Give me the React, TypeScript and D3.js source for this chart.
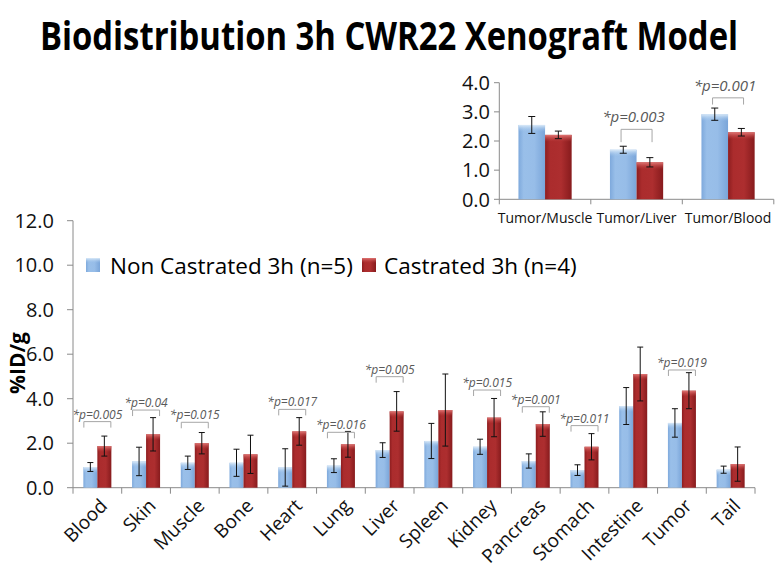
import React, { useLayoutEffect, useRef, useState } from 'react';
import * as d3 from 'd3';

// ---------- data ----------
const organs = ['Blood', 'Skin', 'Muscle', 'Bone', 'Heart', 'Lung', 'Liver', 'Spleen', 'Kidney', 'Pancreas', 'Stomach', 'Intestine', 'Tumor', 'Tail'];
const nonCastrated = [0.93, 1.18, 1.12, 1.12, 0.91, 0.99, 1.69, 2.10, 1.84, 1.20, 0.79, 3.67, 2.91, 0.81];
const nonCastratedErr = [0.20, 0.64, 0.30, 0.61, 0.84, 0.31, 0.33, 0.79, 0.34, 0.32, 0.24, 0.83, 0.64, 0.16];
const castrated = [1.87, 2.40, 2.00, 1.50, 2.53, 1.95, 3.43, 3.49, 3.15, 2.86, 1.84, 5.11, 4.36, 1.06];
const castratedErr = [0.45, 0.75, 0.48, 0.86, 0.62, 0.58, 0.89, 1.62, 0.86, 0.55, 0.59, 1.21, 0.81, 0.77];
const mainTicks = [0, 2, 4, 6, 8, 10, 12];

const annotatedOrgans = ['Blood', 'Skin', 'Muscle', 'Heart', 'Lung', 'Liver', 'Kidney', 'Pancreas', 'Stomach', 'Tumor'];
const annotationP = ['0.005', '0.04', '0.015', '0.017', '0.016', '0.005', '0.015', '0.001', '0.011', '0.019'];
const annotationLevel = [2.97, 3.49, 2.94, 3.52, 2.49, 4.99, 4.39, 3.64, 2.79, 5.29];

const ratios = ['Tumor/Muscle', 'Tumor/Liver', 'Tumor/Blood'];
const ratioNon = [2.55, 1.70, 2.92];
const ratioNonErr = [0.29, 0.12, 0.21];
const ratioCas = [2.21, 1.27, 2.30];
const ratioCasErr = [0.13, 0.16, 0.13];
const insetTicks = [0, 1, 2, 3, 4];

const insetAnnotated = ['Tumor/Liver', 'Tumor/Blood'];
const insetP = ['0.003', '0.001'];
const insetLevelTop = [2.40, 3.48];
const insetLevelBottom = [1.96, 3.25];

const seriesNames = ['Non Castrated 3h (n=5)', 'Castrated 3h (n=4)'];
const seriesKeys = ['non', 'cas'];
const titleText = 'Biodistribution 3h CWR22 Xenograft Model';

const FONT = "'Open Sans', 'Noto Sans', sans-serif";
const fmt = d3.format('.1f');

function BarGroup({ y, cx, w, v, e, fill, top, capW, topH }) {
  const yv = y(v);
  const y0 = y(0);
  const h = y0 - yv;
  const th = Math.min(topH, h);
  const mx = cx + w / 2;
  return (
    <g>
      <rect x={cx} y={yv} width={w} height={h} fill={fill} />
      <rect x={cx} y={yv} width={w} height={th} fill={top} />
      <line x1={mx} x2={mx} y1={y(v + e)} y2={y(v - e)} stroke="#111" strokeWidth={1} />
      <line x1={mx - capW / 2} x2={mx + capW / 2} y1={y(v + e)} y2={y(v + e)} stroke="#111" strokeWidth={1} />
      <line x1={mx - capW / 2} x2={mx + capW / 2} y1={y(v - e)} y2={y(v - e)} stroke="#111" strokeWidth={1} />
    </g>
  );
}

export default function App() {
  const W = 781, H = 571;
  const titleRef = useRef<SVGTextElement>(null);
  const [titleScale, setTitleScale] = useState(0.75);
  const TITLE_W = 698;

  useLayoutEffect(() => {
    if (titleRef.current) {
      const len = titleRef.current.getComputedTextLength();
      if (len > 0) setTitleScale(Math.min(1, TITLE_W / len));
    }
  }, []);

  // main chart scales
  const xMain = d3.scaleBand<string>().domain(organs).range([73, 755]).padding(0);
  const xSub = d3.scaleBand<string>().domain(seriesKeys).range([0, xMain.bandwidth()]).paddingInner(0).paddingOuter(0.74);
  const yMain = d3.scaleLinear().domain([0, 12]).range([487.7, 220.7]);

  // inset scales
  const xIn = d3.scaleBand<string>().domain(ratios).range([499.3, 773.8]).padding(0);
  const xInSub = d3.scaleBand<string>().domain(seriesKeys).range([0, xIn.bandwidth()]).paddingInner(0).paddingOuter(0.72);
  const yIn = d3.scaleLinear().domain([0, 4]).range([199.3, 82.7]);

  const axisColor = '#8a8a8a';
  const bracketColor = '#a6a6a6';
  const pColor = '#595959';

  return (
    <svg width={W} height={H} style={{ position: 'absolute', left: 0, top: 0, display: 'block', background: '#fff' }}>
      <defs>
        <linearGradient id="blueBody" x1="0" x2="1" y1="0" y2="0">
          <stop offset="0" stopColor="#7ea9dc" />
          <stop offset="0.2" stopColor="#99bfe9" />
          <stop offset="0.6" stopColor="#97bde8" />
          <stop offset="1" stopColor="#7aa5d9" />
        </linearGradient>
        <linearGradient id="blueTop" x1="0" x2="0" y1="0" y2="1">
          <stop offset="0" stopColor="#dbeaf8" />
          <stop offset="1" stopColor="#9cc2ea" stopOpacity="0" />
        </linearGradient>
        <linearGradient id="redBody" x1="0" x2="1" y1="0" y2="0">
          <stop offset="0" stopColor="#8c1d1f" />
          <stop offset="0.2" stopColor="#ab2c2d" />
          <stop offset="0.6" stopColor="#ad2e2f" />
          <stop offset="1" stopColor="#871b1d" />
        </linearGradient>
        <linearGradient id="redTop" x1="0" x2="0" y1="0" y2="1">
          <stop offset="0" stopColor="#e07674" />
          <stop offset="1" stopColor="#c04040" stopOpacity="0" />
        </linearGradient>
      </defs>

      {/* Title (horizontally condensed to mimic a narrow bold face) */}
      <g transform={`translate(389,50) scale(${titleScale},1)`}>
        <text ref={titleRef} x={0} y={0} textAnchor="middle" fontFamily={FONT} fontWeight={700} fontSize={40} fill="#000">
          {titleText}
        </text>
      </g>

      {/* ---------- main chart ---------- */}
      <line x1={73} x2={73} y1={yMain(12)} y2={yMain(0)} stroke={axisColor} />
      {mainTicks.map((t) => (
        <g key={'yt' + t}>
          <line x1={67} x2={73} y1={yMain(t)} y2={yMain(t)} stroke={axisColor} />
          <text x={54} y={yMain(t)} dy="0.36em" textAnchor="end" fontFamily={FONT} fontSize={20} fill="#111">
            {fmt(t)}
          </text>
        </g>
      ))}
      <line x1={73} x2={755} y1={yMain(0)} y2={yMain(0)} stroke={axisColor} />
      {[...organs.map((o) => xMain(o) as number), 755].map((xx, i) => (
        <line key={'xt' + i} x1={xx} x2={xx} y1={yMain(0)} y2={yMain(0) + 6} stroke={axisColor} />
      ))}

      {organs.map((o, i) => {
        const bx = xMain(o) as number;
        return (
          <g key={'bar' + o}>
            <BarGroup y={yMain} cx={bx + (xSub('non') as number)} w={xSub.bandwidth()} v={nonCastrated[i]} e={nonCastratedErr[i]}
              fill="url(#blueBody)" top="url(#blueTop)" capW={6} topH={6} />
            <BarGroup y={yMain} cx={bx + (xSub('cas') as number)} w={xSub.bandwidth()} v={castrated[i]} e={castratedErr[i]}
              fill="url(#redBody)" top="url(#redTop)" capW={6} topH={6} />
          </g>
        );
      })}

      {organs.map((o) => {
        const cx = (xMain(o) as number) + xMain.bandwidth() / 2;
        return (
          <text key={'xl' + o} transform={`translate(${cx + 11},${507}) rotate(-45)`} textAnchor="end"
            fontFamily={FONT} fontSize={19} fill="#111">
            {o}
          </text>
        );
      })}

      {/* significance annotations main */}
      {annotatedOrgans.map((o, i) => {
        const cx = (xMain(o) as number) + xMain.bandwidth() / 2;
        const yt = yMain(annotationLevel[i]);
        const half = 13.5;
        return (
          <g key={'an' + o}>
            <path d={`M${cx - half},${yt + 6}V${yt}H${cx + half}V${yt + 6}`} fill="none" stroke={bracketColor} strokeWidth={1} />
            <text x={cx} y={yt - 3} textAnchor="middle" fontFamily={FONT} fontStyle="italic" fontSize={12} fill={pColor}>
              {'*p=' + annotationP[i]}
            </text>
          </g>
        );
      })}

      {/* Y axis title */}
      <text transform="translate(25,363) rotate(-90)" textAnchor="middle" fontFamily={FONT} fontWeight={700} fontSize={21} fill="#000">
        %ID/g
      </text>

      {/* Legend */}
      <rect x={86} y={258} width={14} height={14} fill="url(#blueBody)" />
      <rect x={86} y={258} width={14} height={5} fill="url(#blueTop)" />
      <text x={110} y={274} fontFamily={FONT} fontSize={22.5} fill="#000">{seriesNames[0]}</text>
      <rect x={362} y={258} width={14} height={14} fill="url(#redBody)" />
      <rect x={362} y={258} width={14} height={5} fill="url(#redTop)" />
      <text x={384} y={274} fontFamily={FONT} fontSize={22.5} fill="#000">{seriesNames[1]}</text>

      {/* ---------- inset chart ---------- */}
      <line x1={499.3} x2={499.3} y1={yIn(4)} y2={yIn(0)} stroke={axisColor} />
      {insetTicks.map((t) => (
        <g key={'iyt' + t}>
          <line x1={494} x2={499.3} y1={yIn(t)} y2={yIn(t)} stroke={axisColor} />
          <text x={490} y={yIn(t)} dy="0.36em" textAnchor="end" fontFamily={FONT} fontSize={20} fill="#111">
            {fmt(t)}
          </text>
        </g>
      ))}
      <line x1={499.3} x2={773.8} y1={yIn(0)} y2={yIn(0)} stroke={axisColor} />
      {[...ratios.map((r) => xIn(r) as number), 773.8].map((xx, i) => (
        <line key={'ixt' + i} x1={xx} x2={xx} y1={yIn(0)} y2={yIn(0) + 5} stroke={axisColor} />
      ))}
      {ratios.map((r, i) => {
        const bx = xIn(r) as number;
        return (
          <g key={'ibar' + r}>
            <BarGroup y={yIn} cx={bx + (xInSub('non') as number)} w={xInSub.bandwidth()} v={ratioNon[i]} e={ratioNonErr[i]}
              fill="url(#blueBody)" top="url(#blueTop)" capW={7} topH={7} />
            <BarGroup y={yIn} cx={bx + (xInSub('cas') as number)} w={xInSub.bandwidth()} v={ratioCas[i]} e={ratioCasErr[i]}
              fill="url(#redBody)" top="url(#redTop)" capW={7} topH={7} />
          </g>
        );
      })}
      {ratios.map((r) => (
        <text key={'ixl' + r} x={(xIn(r) as number) + xIn.bandwidth() / 2} y={223} textAnchor="middle"
          fontFamily={FONT} fontSize={14} fill="#111">
          {r}
        </text>
      ))}
      {insetAnnotated.map((r, i) => {
        const cx = (xIn(r) as number) + xIn.bandwidth() / 2;
        const yt = yIn(insetLevelTop[i]);
        const yb = yIn(insetLevelBottom[i]);
        const half = 15.5;
        return (
          <g key={'ian' + r}>
            <path d={`M${cx - half},${yb}V${yt}H${cx + half}V${yb}`} fill="none" stroke={bracketColor} strokeWidth={1} />
            <text x={cx - 3} y={yt - 7} textAnchor="middle" fontFamily={FONT} fontStyle="italic" fontSize={15} fill={pColor}>
              {'*p=' + insetP[i]}
            </text>
          </g>
        );
      })}
    </svg>
  );
}
